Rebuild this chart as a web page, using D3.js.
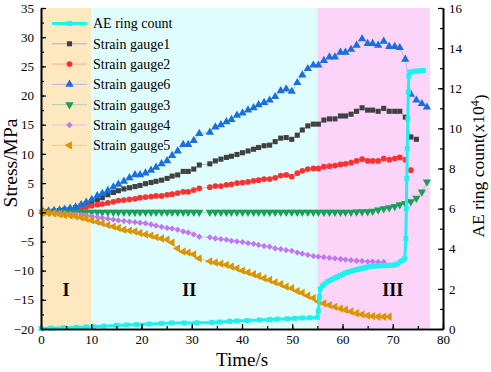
<!DOCTYPE html>
<html>
<head>
<meta charset="utf-8">
<script src="https://cdn.jsdelivr.net/npm/d3@7"></script>
<style>
  body { margin: 0; background: #fff; }
  svg text { font-family: "Liberation Serif", "Times New Roman", serif; fill: #000; }
</style>
</head>
<body>
<div id="chart"></div>
<script>
// strain gauge sampling times (s), one sample missing near 32.5 s
var strainTime = [0.4, 1.5, 2.6, 3.7, 4.7, 5.8, 6.9, 8.0, 9.0, 10.1,
  11.2, 12.2, 13.3, 14.4, 15.4, 16.5, 17.6, 18.7, 19.7, 20.8,
  21.9, 22.9, 24.0, 25.1, 26.1, 27.2, 28.3, 29.3, 30.4, 31.5,
  33.6, 34.7, 35.8, 36.9, 37.9, 39.0, 40.1, 41.2, 42.3, 43.3,
  44.4, 45.5, 46.6, 47.7, 48.8, 49.9, 51.0, 52.0, 53.1, 54.2,
  55.2, 56.3, 57.4, 58.5, 59.6, 60.6, 61.7, 62.8, 63.9, 65.0,
  66.0, 67.1, 68.2, 69.3, 70.4, 71.4, 72.5, 73.6, 74.7, 75.8,
  76.8];

// stress (MPa)
var gauge1 = [0.0, 0.1, 0.2, 0.3, 0.4, 0.5, 0.8, 1.1, 1.4, 1.8,
  2.2, 2.5, 3.0, 3.4, 3.7, 4.0, 4.2, 4.4, 4.6, 4.9,
  5.1, 5.3, 5.5, 5.8, 6.2, 6.4, 7.0, 7.0, 7.4, 8.1,
  8.3, 8.8, 9.1, 9.4, 9.6, 9.9, 10.2, 10.5, 10.8, 11.1,
  11.4, 11.5, 12.1, 12.7, 12.8, 12.5, 13.2, 14.1, 14.8, 15.1,
  15.1, 15.8, 16.0, 16.0, 16.5, 16.5, 16.8, 17.3, 17.9, 17.5,
  17.5, 17.3, 17.8, 17.3, 17.3, 17.3, 16.3, 12.9, 12.5];

var gauge2 = [0.0, 0.05, 0.1, 0.15, 0.2, 0.3, 0.45, 0.7, 0.9, 1.1,
  1.3, 1.4, 1.6, 1.8, 2.0, 2.1, 2.2, 2.3, 2.5, 2.6,
  2.7, 2.8, 2.8, 3.0, 3.1, 3.3, 3.5, 3.5, 3.8, 4.1,
  4.3, 4.5, 4.5, 4.7, 4.8, 5.0, 5.1, 5.2, 5.4, 5.5,
  5.7, 5.7, 5.9, 6.3, 6.4, 6.1, 6.7, 7.1, 7.4, 7.5,
  7.5, 7.8, 7.9, 8.0, 8.2, 8.3, 8.5, 8.8, 9.1, 8.8,
  8.8, 8.8, 9.2, 9.0, 9.2, 9.4, 9.0, 7.2];

var gauge6 = [0.1, 0.2, 0.3, 0.4, 0.5, 0.7, 0.9, 1.3, 1.7, 2.2,
  2.8, 3.2, 3.7, 4.3, 4.8, 5.3, 5.9, 6.4, 6.4, 6.7,
  7.2, 7.7, 8.3, 8.8, 9.7, 10.5, 11.6, 11.6, 12.3, 13.5,
  13.7, 14.6, 15.0, 15.5, 15.9, 16.6, 17.0, 17.5, 17.9, 18.4,
  18.8, 19.2, 19.8, 20.8, 21.1, 20.7, 22.2, 23.5, 24.6, 25.2,
  25.2, 26.0, 26.6, 26.6, 27.4, 27.4, 27.9, 28.6, 29.7, 28.9,
  28.9, 28.6, 29.3, 28.4, 28.4, 28.2, 26.2, 20.2, 19.2, 18.6,
  18.0];

var gauge3 = [0, 0, 0, 0, 0, 0, 0, 0, 0, 0,
  0, 0, 0, 0, 0, 0, 0, 0, 0, 0,
  0, 0, 0, 0, 0, 0, 0, 0, 0, 0,
  0, 0, 0, 0, 0, 0, 0, 0, 0, 0,
  0, 0, 0, 0, 0, 0, 0, 0, 0, 0,
  0, 0, 0, 0, 0, 0, 0, 0.05, 0.1, 0.1,
  0.2, 0.4, 0.6, 0.8, 1.0, 1.3, 1.5, 1.8, 2.4, 3.5,
  5.2];

var gauge4 = [0.0, -0.05, -0.1, -0.15, -0.2, -0.3, -0.35, -0.45, -0.55, -0.65,
  -0.8, -0.95, -1.1, -1.25, -1.4, -1.5, -1.6, -1.7, -1.8, -1.9,
  -2.1, -2.3, -2.5, -2.7, -2.8, -3.0, -3.3, -3.5, -3.8, -4.2,
  -4.3, -4.5, -4.6, -4.7, -4.9, -5.0, -5.1, -5.3, -5.4, -5.6,
  -5.8, -5.9, -6.2, -6.3, -6.5, -6.6, -6.9, -7.1, -7.3, -7.5,
  -7.6, -7.7, -7.8, -7.9, -8.0, -8.1, -8.2, -8.3, -8.35, -8.45,
  -8.45, -8.5, -8.5];

var gauge5 = [0.0, -0.1, -0.2, -0.35, -0.5, -0.55, -0.7, -0.9, -1.1, -1.4,
  -1.65, -1.9, -2.2, -2.45, -2.7, -3.0, -3.15, -3.3, -3.55, -3.8,
  -4.0, -4.25, -4.5, -4.7, -5.2, -6.2, -6.75, -6.9, -7.2, -7.9,
  -8.4, -8.6, -8.8, -9.0, -9.3, -9.6, -10.0, -10.3, -10.6, -10.9,
  -11.3, -11.6, -12.0, -12.3, -12.75, -13.0, -13.5, -13.8, -14.3, -14.7,
  -15.3, -15.6, -15.9, -16.2, -16.5, -16.7, -17.0, -17.3, -17.5, -17.7,
  -17.8, -17.9, -17.9, -17.9];

// AE ring count (x10^4), right axis
var aeTime = [0, 2, 4.5, 7, 9, 10.5, 12.5, 15, 17, 19,
  21.5, 24, 26, 28.5, 31, 34, 35.5, 37.5, 39, 41,
  43.5, 45.5, 47, 49, 50.5, 52, 53.5, 55.0, 55.2, 55.4,
  55.6, 56, 56.5, 57, 57.5, 58, 58.5, 59, 59.5, 60,
  60.5, 61, 61.5, 62, 62.5, 63, 63.5, 64, 64.5, 65,
  65.5, 66, 66.5, 67, 67.5, 68, 68.5, 69, 69.5, 70,
  70.5, 71, 71.5, 72, 72.4, 72.6, 72.7, 72.8, 72.9, 73.0,
  73.1, 73.2, 73.4, 73.8, 74.3, 74.8, 75.3, 75.8, 76.1];
var aeCount = [0.02, 0.04, 0.06, 0.08, 0.1, 0.11, 0.14, 0.18, 0.2, 0.22,
  0.25, 0.28, 0.3, 0.3, 0.31, 0.33, 0.35, 0.38, 0.4, 0.42,
  0.45, 0.47, 0.49, 0.51, 0.53, 0.55, 0.56, 0.58, 0.9, 1.6,
  2.0, 2.15, 2.25, 2.35, 2.42, 2.48, 2.55, 2.6, 2.66, 2.72,
  2.78, 2.82, 2.86, 2.9, 2.94, 2.97, 3.0, 3.03, 3.06, 3.09,
  3.11, 3.13, 3.14, 3.15, 3.15, 3.16, 3.16, 3.17, 3.17, 3.18,
  3.2, 3.25, 3.35, 3.42, 3.5, 4.5, 6.0, 7.5, 9.0, 10.5,
  11.8, 12.6, 12.8, 12.82, 12.84, 12.85, 12.86, 12.88, 12.88];

// stage shading
var stageStart = [0, 10, 55];
var stageEnd = [10, 55, 77.4];
var stageLabel = ["I", "II", "III"];
var stageLabelX = [5, 29.5, 70];
var stageColor = ["#fde8c0", "#e0fdfd", "#fcd4f9"];

var xTicks = [0, 10, 20, 30, 40, 50, 60, 70, 80];
var yTicks = [-20, -15, -10, -5, 0, 5, 10, 15, 20, 25, 30, 35];
var yRTicks = [0, 2, 4, 6, 8, 10, 12, 14, 16];

var svgWidth = 491, svgHeight = 372;
var margin = {top: 8, right: 48, bottom: 43, left: 41},
    width = svgWidth - margin.left - margin.right,
    height = svgHeight - margin.top - margin.bottom;

var svg = d3.select("#chart").append("svg")
    .attr("width", svgWidth)
    .attr("height", svgHeight);

var g = svg.append("g")
    .attr("transform", "translate(" + margin.left + "," + margin.top + ")");

var x = d3.scaleLinear().domain([0, 80]).range([0, width]);
var y = d3.scaleLinear().domain([-20, 35]).range([height, 0]);
var yR = d3.scaleLinear().domain([0, 16]).range([height, 0]);

// background stages
g.selectAll("rect.stage")
    .data(stageStart)
    .enter().append("rect")
    .attr("class", "stage")
    .attr("x", function(d) { return x(d); })
    .attr("y", 0)
    .attr("width", function(d, i) { return x(stageEnd[i]) - x(d); })
    .attr("height", height)
    .attr("fill", function(d, i) { return stageColor[i]; });

g.selectAll("text.stage")
    .data(stageLabel)
    .enter().append("text")
    .attr("class", "stage")
    .attr("x", function(d, i) { return x(stageLabelX[i]); })
    .attr("y", y(-13.2))
    .attr("dy", "0.35em")
    .attr("text-anchor", "middle")
    .style("font-size", "18px")
    .style("font-weight", "bold")
    .text(function(d) { return d; });

// series setup
var series = [
  {name: "Strain gauge1", values: gauge1, color: "#404040", line: "#b0b0b0", shape: "square"},
  {name: "Strain gauge2", values: gauge2, color: "#ff3030", line: "#ffaaaa", shape: "circle"},
  {name: "Strain gauge6", values: gauge6, color: "#1a6fdc", line: "#a8bde0", shape: "up"},
  {name: "Strain gauge3", values: gauge3, color: "#16a058", line: "#9fd6b8", shape: "down"},
  {name: "Strain gauge4", values: gauge4, color: "#c077f0", line: "#e0c0f6", shape: "diamond"},
  {name: "Strain gauge5", values: gauge5, color: "#db9500", line: "#eecb85", shape: "left"}
];

function symbolPath(shape) {
  if (shape == "square") return d3.symbol().type(d3.symbolSquare).size(26)();
  if (shape == "circle") return d3.symbol().type(d3.symbolCircle).size(26)();
  if (shape == "diamond") return d3.symbol().type(d3.symbolSquare).size(20)();
  return d3.symbol().type(d3.symbolTriangle).size(30)();
}
function symbolRotate(shape) {
  if (shape == "down") return 180;
  if (shape == "left") return -90;
  if (shape == "diamond") return 45;
  return 0;
}

var line = d3.line()
    .x(function(d) { return x(d[0]); })
    .y(function(d) { return y(d[1]); });

series.forEach(function(s) {
  var pts = s.values.map(function(v, i) { return [strainTime[i], v]; });
  g.append("path")
      .datum(pts)
      .attr("fill", "none")
      .attr("stroke", s.line)
      .attr("stroke-width", 1)
      .attr("d", line);
  g.selectAll(null)
      .data(pts)
      .enter().append("path")
      .attr("transform", function(d) {
        return "translate(" + x(d[0]) + "," + y(d[1]) + ")rotate(" + symbolRotate(s.shape) + ")";
      })
      .attr("d", symbolPath(s.shape))
      .attr("fill", s.color);
});

// AE ring count on right axis
var aePts = aeCount.map(function(v, i) { return [aeTime[i], v]; });
var aeLine = d3.line()
    .x(function(d) { return x(d[0]); })
    .y(function(d) { return yR(d[1]); });
g.append("path")
    .datum(aePts)
    .attr("fill", "none")
    .attr("stroke", "#1ff0f0")
    .attr("stroke-width", 3)
    .attr("d", aeLine);
g.selectAll(null)
    .data(aePts)
    .enter().append("rect")
    .attr("x", function(d) { return x(d[0]) - 2.5; })
    .attr("y", function(d) { return yR(d[1]) - 2.5; })
    .attr("width", 5)
    .attr("height", 5)
    .attr("fill", "#1ff0f0");

// axes with inward ticks
function minorTicks(domain, step) {
  var out = [];
  for (var v = domain[0]; v <= domain[1] + 1e-9; v += step) out.push(+v.toFixed(3));
  return out;
}

g.append("g")
    .attr("transform", "translate(0," + height + ")")
    .call(d3.axisBottom(x).tickValues(xTicks).tickSizeInner(-5).tickSizeOuter(0).tickPadding(6));
g.append("g")
    .attr("transform", "translate(0," + height + ")")
    .call(d3.axisBottom(x).tickValues(minorTicks([0, 80], 5)).tickSizeInner(-3).tickSizeOuter(0).tickFormat(""));

g.append("g")
    .call(d3.axisLeft(y).tickValues(yTicks).tickSizeInner(-5).tickSizeOuter(0).tickPadding(7));
g.append("g")
    .call(d3.axisLeft(y).tickValues(minorTicks([-20, 35], 2.5)).tickSizeInner(-3).tickSizeOuter(0).tickFormat(""));

g.append("g")
    .attr("transform", "translate(" + width + ",0)")
    .call(d3.axisRight(yR).tickValues(yRTicks).tickSizeInner(-5).tickSizeOuter(0).tickPadding(6));
g.append("g")
    .attr("transform", "translate(" + width + ",0)")
    .call(d3.axisRight(yR).tickValues(minorTicks([0, 16], 1)).tickSizeInner(-3).tickSizeOuter(0).tickFormat(""));

g.selectAll(".domain").attr("stroke", "#000").attr("stroke-width", 1.6);
g.selectAll(".tick line").attr("stroke", "#000").attr("stroke-width", 1.2);
g.selectAll(".tick text").style("font-size", "13px").style("font-family", "'Liberation Serif', serif");

// axis titles
svg.append("text")
    .attr("transform", "translate(" + (margin.left + width / 2) + ",366)")
    .attr("text-anchor", "middle")
    .style("font-size", "19px")
    .text("Time/s");

svg.append("text")
    .attr("transform", "translate(17,163)rotate(-90)")
    .attr("text-anchor", "middle")
    .style("font-size", "19.5px")
    .text("Stress/MPa");

var rTitle = svg.append("text")
    .attr("transform", "translate(484,166)rotate(-90)")
    .attr("text-anchor", "middle")
    .style("font-size", "17.5px");
rTitle.append("tspan").text("AE ring count(x10");
rTitle.append("tspan").attr("dy", "-0.45em").style("font-size", "12px").text("4");
rTitle.append("tspan").attr("dy", "0.45em").text(")");

// legend
var legendItems = [{name: "AE ring count", color: "#1ff0f0", line: "#1ff0f0", shape: "ae"}].concat(series);
var legend = g.append("g").attr("transform", "translate(11,15.5)");
legendItems.forEach(function(s, i) {
  var row = legend.append("g").attr("transform", "translate(0," + (i * 20.3) + ")");
  row.append("line")
      .attr("x1", 0).attr("x2", 35)
      .attr("stroke", s.line)
      .attr("stroke-width", s.shape == "ae" ? 3 : 1);
  if (s.shape == "ae") {
    row.append("rect").attr("x", 15).attr("y", -2.5).attr("width", 5).attr("height", 5).attr("fill", s.color);
  } else {
    row.append("path")
        .attr("transform", "translate(17.5,0)rotate(" + symbolRotate(s.shape) + ")")
        .attr("d", symbolPath(s.shape))
        .attr("fill", s.color);
  }
  row.append("text")
      .attr("x", 41)
      .attr("dy", "0.35em")
      .style("font-size", "14px")
      .text(s.name);
});
</script>
</body>
</html>
